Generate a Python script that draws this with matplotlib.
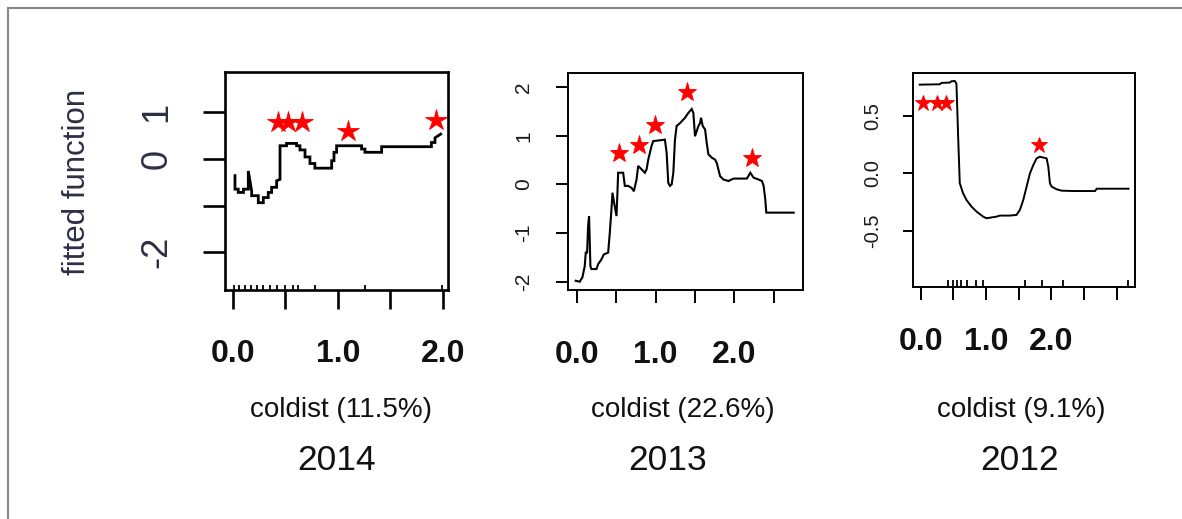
import matplotlib
matplotlib.use("Agg")
import matplotlib.pyplot as plt
from matplotlib.lines import Line2D

plt.rcParams['font.family'] = ['Liberation Sans', 'DejaVu Sans']

# ---------------- data ----------------
years = ["2014", "2013", "2012"]
xlabels = ["coldist (11.5%)", "coldist (22.6%)", "coldist (9.1%)"]
ylabel = "fitted function"

# 2014 panel
x14 = [0.019, 0.019, 0.05, 0.05, 0.10, 0.10, 0.146, 0.146, 0.178, 0.178, 0.241, 0.241, 0.289, 0.289,
       0.336, 0.336, 0.368, 0.368, 0.416, 0.416, 0.448, 0.448, 0.51, 0.51, 0.606, 0.606, 0.638, 0.638,
       0.686, 0.686, 0.733, 0.733, 0.78, 0.78, 0.94, 0.94, 0.962, 0.962, 0.987, 0.987, 1.225, 1.225,
       1.257, 1.257, 1.29, 1.29, 1.416, 1.416, 1.89, 1.89, 1.924, 1.924, 1.978]
y14 = [-0.36, -0.65, -0.65, -0.72, -0.72, -0.65, -0.65, -0.26, -0.69, -0.79, -0.79, -0.94, -0.94, -0.83,
       -0.83, -0.72, -0.72, -0.61, -0.61, -0.47, -0.44, 0.28, 0.28, 0.33, 0.33, 0.28, 0.28, 0.19,
       0.19, 0.04, 0.04, -0.10, -0.10, -0.20, -0.20, -0.04, -0.04, 0.14, 0.14, 0.28, 0.28, 0.21,
       0.21, 0.14, 0.14, 0.14, 0.14, 0.26, 0.26, 0.35, 0.35, 0.45, 0.53]
star_x14 = [0.43, 0.527, 0.654, 1.10, 1.93]
star_y14 = [0.78, 0.78, 0.78, 0.60, 0.83]
rug14 = [0.01, 0.06, 0.114, 0.168, 0.225, 0.289, 0.352, 0.422, 0.495, 0.575, 0.622, 0.78, 1.257, 1.987]
yticks14 = [-2, -1, 0, 1]
yticklabels14 = ["-2", "", "0", "1"]
xticks14 = [0, 0.5, 1.0, 1.5, 2.0]

# 2013 panel
x13 = [-0.017, 0.034, 0.068, 0.098, 0.111, 0.128, 0.141, 0.153, 0.170, 0.183, 0.247, 0.268, 0.311,
       0.340, 0.396, 0.417, 0.438, 0.451, 0.472, 0.502, 0.514, 0.523, 0.587, 0.608, 0.651, 0.693,
       0.723, 0.757, 0.778, 0.821, 0.863, 0.885, 0.906, 0.948, 0.969, 1.118, 1.140, 1.161, 1.182,
       1.204, 1.225, 1.246, 1.267, 1.310, 1.374, 1.416, 1.459, 1.480, 1.501, 1.544, 1.565, 1.578,
       1.599, 1.629, 1.650, 1.671, 1.714, 1.756, 1.778, 1.820, 1.863, 1.927, 1.991, 2.161, 2.204,
       2.246, 2.310, 2.353, 2.374, 2.395, 2.408, 2.757]
y13 = [-1.98, -2.00, -1.91, -1.68, -1.40, -1.40, -0.85, -0.65, -1.68, -1.74, -1.74, -1.64, -1.54,
       -1.44, -1.40, -0.99, -0.51, -0.17, -0.38, -0.65, -0.17, 0.24, 0.24, -0.03, -0.03, -0.07,
       -0.14, 0.10, 0.38, 0.31, 0.24, 0.31, 0.51, 0.79, 0.89, 0.92, 0.65, 0.03, -0.03,
       0.00, 0.24, 0.92, 1.20, 1.26, 1.37, 1.47, 1.55, 1.47, 0.99, 1.20, 1.26, 1.37,
       1.20, 1.13, 0.85, 0.62, 0.55, 0.51, 0.44, 0.17, 0.10, 0.07, 0.12, 0.12, 0.24,
       0.14, 0.10, 0.07, -0.03, -0.31, -0.58, -0.58]
star_x13 = [0.536, 0.791, 0.991, 1.395, 2.232]
star_y13 = [0.65, 0.80, 1.23, 1.89, 0.55]
yticks13 = [-2, -1, 0, 1, 2]
yticklabels13 = ["-2", "-1", "0", "1", "2"]
xticks13 = [0, 0.5, 1.0, 1.5, 2.0, 2.5]

# 2012 panel
x12 = [-0.015, 0.291, 0.317, 0.445, 0.470, 0.521, 0.547, 0.573, 0.598, 0.649, 0.700, 0.777, 0.854,
       0.956, 1.007, 1.161, 1.212, 1.365, 1.467, 1.518, 1.570, 1.621, 1.672, 1.723, 1.774, 1.825,
       1.927, 1.953, 1.978, 2.004, 2.081, 2.157, 2.336, 2.669, 2.694, 3.180]
y12 = [0.769, 0.772, 0.784, 0.787, 0.798, 0.801, 0.778, 0.317, -0.086, -0.173, -0.230, -0.288, -0.331,
       -0.375, -0.389, -0.375, -0.366, -0.366, -0.360, -0.317, -0.230, -0.115, 0.0, 0.072, 0.130, 0.144,
       0.130, 0.058, -0.086, -0.115, -0.138, -0.150, -0.153, -0.153, -0.133, -0.133]
star_x12 = [0.036, 0.25, 0.39, 1.815]
star_y12 = [0.61, 0.61, 0.61, 0.25]
rug12 = [0.42, 0.50, 0.56, 0.62, 0.71, 0.85, 0.96, 1.60, 1.85, 2.18, 3.18]
yticks12 = [-0.5, 0.0, 0.5]
yticklabels12 = ["-0.5", "0.0", "0.5"]
xticks12 = [0, 0.5, 1.0, 1.5, 2.0, 2.5, 3.0]

xtick_text = {0.0: "0.0", 1.0: "1.0", 2.0: "2.0"}

# ---------------- figure ----------------
W, H = 1182, 519
fig = plt.figure(figsize=(W / 100, H / 100), dpi=100)
fig.patch.set_facecolor("white")


def add_axes_px(left, top, right, bottom):
    return fig.add_axes([left / W, 1 - bottom / H, (right - left) / W, (bottom - top) / H])


def fx(px):
    return px / W


def fy(py):
    return 1 - py / H


panels = [
    dict(box=(225, 72, 448, 290), x=x14, y=y14, sx=star_x14, sy=star_y14, rug=rug14,
         xlim=(-0.076, 2.048), ylim=(-2.81, 1.86), yt=yticks14, ytl=yticklabels14, xt=xticks14,
         lw=2.0, blw=1.9, ms=16, yfs=26, ylen=15.5, ypad=21, xlen=14, xpad=21, ycol="#2c2f45",
         rugh=5),
    dict(box=(568, 73, 803, 290), x=x13, y=y13, sx=star_x13, sy=star_y13, rug=None,
         xlim=(-0.115, 2.875), ylim=(-2.17, 2.29), yt=yticks13, ytl=yticklabels13, xt=xticks13,
         lw=1.5, blw=1.4, ms=14, yfs=15, ylen=9, ypad=16, xlen=9.5, xpad=26.5, ycol="#1a1a1a",
         rugh=5),
    dict(box=(913, 73, 1135, 287), x=x12, y=y12, sx=star_x12, sy=star_y12, rug=rug12,
         xlim=(-0.118, 3.28), ylim=(-0.985, 0.87), yt=yticks12, ytl=yticklabels12, xt=xticks12,
         lw=1.4, blw=1.4, ms=12, yfs=14.5, ylen=7.5, ypad=14.5, xlen=9, xpad=20, ycol="#1a1a1a",
         rugh=7),
]

for p in panels:
    ax = add_axes_px(*p["box"])
    ax.plot(p["x"], p["y"], color="black", lw=p["lw"], solid_joinstyle="miter")
    ax.plot(p["sx"], p["sy"], linestyle="none", marker="*", color="#ff0000", ms=p["ms"],
            markeredgewidth=0.6, markeredgecolor="#ff0000")
    if p["rug"] is not None:
        ax.vlines(p["rug"], 0, p["rugh"] / ((p["box"][3] - p["box"][1])), color="black",
                  lw=1.3, transform=ax.get_xaxis_transform())
    ax.set_xlim(*p["xlim"])
    ax.set_ylim(*p["ylim"])
    ax.set_yticks(p["yt"])
    ax.set_yticklabels(p["ytl"], rotation=90, va="center", fontsize=p["yfs"], color=p["ycol"])
    ax.set_xticks(p["xt"])
    ax.set_xticklabels([xtick_text.get(v, "") for v in p["xt"]], fontsize=23, fontweight="bold",
                       color="#111111")
    ax.tick_params(axis="y", direction="out", length=p["ylen"], width=p["blw"], pad=p["ypad"])
    ax.tick_params(axis="x", direction="out", length=p["xlen"], width=p["blw"], pad=p["xpad"])
    for s in ax.spines.values():
        s.set_linewidth(p["blw"])
        s.set_color("black")

# axis label, x labels and years
fig.text(fx(77), fy(182), ylabel, rotation=90, ha="center", va="center", fontsize=22.5,
         color="#2c2f45")
for cx, t in zip([340.5, 682.5, 1021.5], xlabels):
    fig.text(fx(cx), fy(410), t, ha="center", va="center", fontsize=20, color="#111111")
for cx, t in zip([336.5, 668, 1020], years):
    fig.text(fx(cx), fy(460), t, ha="center", va="center", fontsize=25.5, color="#111111")

# outer frame (top and left edges)
fig.add_artist(Line2D([fx(8), 1.0], [fy(8), fy(8)], transform=fig.transFigure, color="#888888", lw=1.5))
fig.add_artist(Line2D([fx(8), fx(8)], [fy(8), 0.0], transform=fig.transFigure, color="#888888", lw=1.5))

fig.savefig("out.png", dpi=100)
